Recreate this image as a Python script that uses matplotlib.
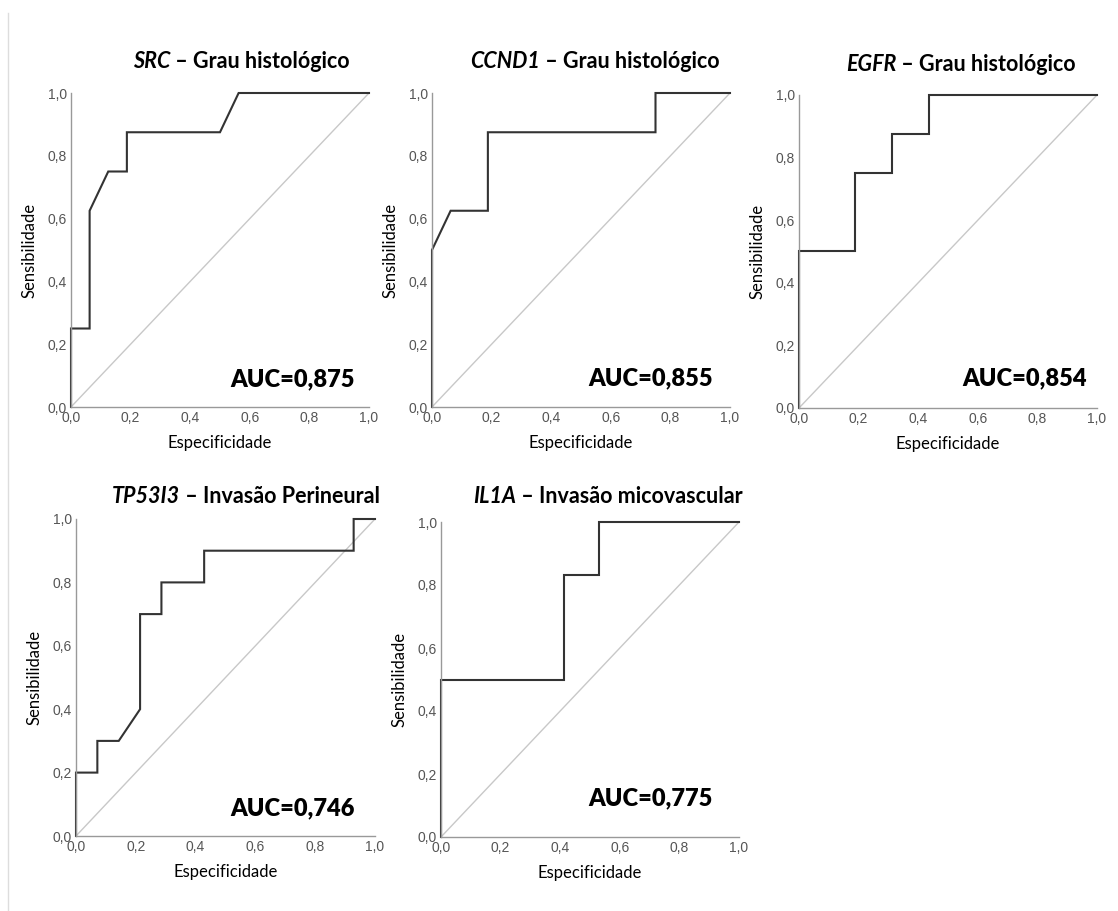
import matplotlib.pyplot as plt
from matplotlib.lines import Line2D

## dados das curvas ROC
genes = ["SRC", "CCND1", "EGFR", "TP53I3", "IL1A"]
desfechos = [" – Grau histológico", " – Grau histológico", " – Grau histológico",
             " – Invasão Perineural", " – Invasão micovascular"]
auc_textos = ["AUC=0,875", "AUC=0,855", "AUC=0,854", "AUC=0,746", "AUC=0,775"]

src_x = [0.0, 0.0, 0.0625, 0.0625, 0.125, 0.1875, 0.1875, 0.5, 0.5625, 1.0]
src_y = [0.0, 0.25, 0.25, 0.625, 0.75, 0.75, 0.875, 0.875, 1.0, 1.0]

ccnd1_x = [0.0, 0.0, 0.0625, 0.1875, 0.1875, 0.75, 0.75, 1.0]
ccnd1_y = [0.0, 0.5, 0.625, 0.625, 0.875, 0.875, 1.0, 1.0]

egfr_x = [0.0, 0.0, 0.1875, 0.1875, 0.3125, 0.3125, 0.4375, 0.4375, 1.0]
egfr_y = [0.0, 0.5, 0.5, 0.75, 0.75, 0.875, 0.875, 1.0, 1.0]

tp53i3_x = [0.0, 0.0, 0.0714, 0.0714, 0.1429, 0.2143, 0.2143, 0.2857, 0.2857,
            0.4286, 0.4286, 0.9286, 0.9286, 1.0]
tp53i3_y = [0.0, 0.2, 0.2, 0.3, 0.3, 0.4, 0.7, 0.7, 0.8, 0.8, 0.9, 0.9, 1.0, 1.0]

il1a_x = [0.0, 0.0, 0.4118, 0.4118, 0.5294, 0.5294, 1.0]
il1a_y = [0.0, 0.5, 0.5, 0.833, 0.833, 1.0, 1.0]

curvas = [(src_x, src_y), (ccnd1_x, ccnd1_y), (egfr_x, egfr_y),
          (tp53i3_x, tp53i3_y), (il1a_x, il1a_y)]

ticks = [0.0, 0.2, 0.4, 0.6, 0.8, 1.0]
tick_labels = ["0,0", "0,2", "0,4", "0,6", "0,8", "1,0"]

## layout (pixels)
W, H = 1118, 911
# esquerda, topo, direita, base de cada eixo
caixas = [(71, 93, 369, 407), (432, 93, 730, 407), (799, 95, 1097, 408),
          (76, 519, 375, 836), (441, 522, 739, 837)]
# início x e linha de base y dos títulos
titulos_pos = [(133, 68), (470, 68), (846, 71), (112, 503), (473, 503)]
# posição do texto AUC (fração do eixo, borda direita / linha de base)
auc_pos = [(0.953, 0.067), (0.943, 0.07), (0.966, 0.073), (0.933, 0.066), (0.913, 0.10)]

fonte = "Lato"
fig = plt.figure(figsize=(W / 100, H / 100), dpi=100)

# linha cinza da borda esquerda
fig.add_artist(Line2D([8 / W, 8 / W], [0, 1 - 13 / H], color="#dddddd", lw=1))

for i in range(5):
    l, t, r, b = caixas[i]
    ax = fig.add_axes([l / W, 1 - b / H, (r - l) / W, (b - t) / H])
    x, y = curvas[i]
    ax.plot([0, 1], [0, 1], color="#c8c8c8", lw=1, clip_on=False)
    ax.plot(x, y, color="#333333", lw=1.5, clip_on=False, solid_joinstyle="miter")
    ax.set_xlim(0, 1)
    ax.set_ylim(0, 1)
    ax.set_xticks(ticks)
    ax.set_xticklabels(tick_labels)
    ax.set_yticks(ticks)
    ax.set_yticklabels(tick_labels)
    ax.tick_params(length=0, labelsize=10, labelcolor="#555555", pad=3)
    for lab in ax.get_xticklabels() + ax.get_yticklabels():
        lab.set_family("Liberation Sans")
    for s in ["top", "right"]:
        ax.spines[s].set_visible(False)
    for s in ["left", "bottom"]:
        ax.spines[s].set_color("#999999")
        ax.spines[s].set_linewidth(1)
    ax.set_xlabel("Especificidade", family=fonte, fontsize=12, labelpad=7)
    ax.set_ylabel("Sensibilidade", family=fonte, fontsize=12, labelpad=7)
    ax.text(auc_pos[i][0], auc_pos[i][1], auc_textos[i], transform=ax.transAxes,
            ha="right", va="baseline", family=fonte, fontweight="heavy", fontsize=17)

    # título: gene em itálico + resto
    tx, ty = titulos_pos[i]
    t1 = fig.text(tx / W, 1 - ty / H, genes[i], family=fonte, fontweight="bold",
                  style="italic", fontsize=15.5, ha="left", va="baseline")
    plt.annotate(desfechos[i], xy=(1, 0), xycoords=t1, ha="left", va="bottom",
                 family=fonte, fontweight="bold", fontsize=15.5, annotation_clip=False)

fig.savefig("out.png", dpi=100, facecolor="white")
